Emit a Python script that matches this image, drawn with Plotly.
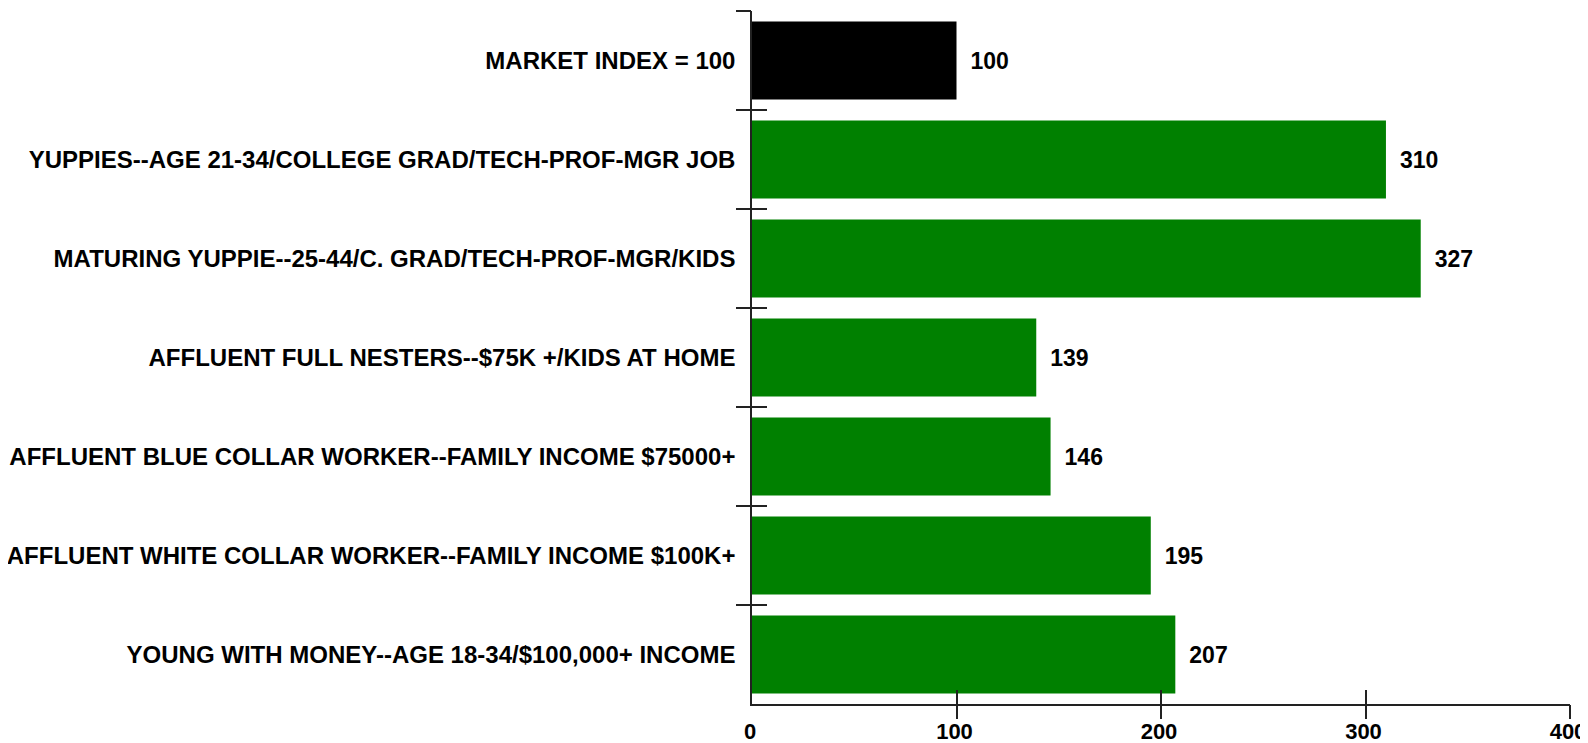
import plotly.graph_objects as go

categories = [
    "MARKET INDEX = 100",
    "YUPPIES--AGE 21-34/COLLEGE GRAD/TECH-PROF-MGR JOB",
    "MATURING YUPPIE--25-44/C. GRAD/TECH-PROF-MGR/KIDS",
    "AFFLUENT FULL NESTERS--$75K +/KIDS AT HOME",
    "AFFLUENT BLUE COLLAR WORKER--FAMILY INCOME $75000+",
    "AFFLUENT WHITE COLLAR WORKER--FAMILY INCOME $100K+",
    "YOUNG WITH MONEY--AGE 18-34/$100,000+ INCOME",
]
values = [100, 310, 327, 139, 146, 195, 207]
bar_colors = ["#000000", "#008000", "#008000", "#008000", "#008000", "#008000", "#008000"]
x_ticks = [0, 100, 200, 300, 400]

FONT = "Arial, Liberation Sans, sans-serif"
n = len(categories)
boundaries = [i - 0.5 for i in range(n)]  # top edge + interior boundaries

fig = go.Figure()
fig.add_trace(go.Bar(
    y=categories, x=values, orientation="h",
    marker=dict(color=bar_colors, line=dict(width=0)),
    texttemplate=" \u2009%{x}", textposition="outside",
    textfont=dict(family=FONT, size=23, color="black", weight="bold"),
    constraintext="none", cliponaxis=False, showlegend=False,
))
# dummy traces to host the overlay axes that draw crossing tick marks
for xa, ya in (("x2", "y2"), ("x3", "y3")):
    fig.add_trace(go.Scatter(x=[None], y=[None], xaxis=xa, yaxis=ya,
                             mode="markers", showlegend=False, hoverinfo="skip"))

xr = [x_ticks[0], x_ticks[-1]]
yr = [n - 0.5, -0.5]
line_col = "#222222"

# page body has an 8px margin, so the figure is sized to fit the 1588x743 window
fig.update_layout(
    width=1580, height=735,
    margin=dict(l=744, r=18, t=3, b=39, autoexpand=False),
    paper_bgcolor="white", plot_bgcolor="white",
    bargap=0.21,
    xaxis=dict(range=xr, tickvals=x_ticks, ticks="", showgrid=False, zeroline=False,
               showline=True, linecolor=line_col, linewidth=1.5, automargin=False,
               ticklabeloverflow="allow", ticklabelshift=-2,
               tickfont=dict(family=FONT, size=22, color="black", weight="bold"),
               ticklabelstandoff=7),
    yaxis=dict(range=yr, type="category", ticks="", showgrid=False, zeroline=False,
               showline=True, linecolor=line_col, linewidth=1.5, automargin=False,
               tickfont=dict(family=FONT, size=24, color="black", weight="bold"),
               ticklabelstandoff=10),
    xaxis2=dict(overlaying="x", anchor="y", range=xr, tickvals=x_ticks[1:],
                ticks="outside", ticklen=14, tickwidth=1.5, tickcolor=line_col,
                showticklabels=False, showgrid=False, zeroline=False, showline=False,
                automargin=False),
    xaxis3=dict(overlaying="x", anchor="y", range=xr, tickvals=x_ticks[1:],
                ticks="inside", ticklen=14, tickwidth=1.5, tickcolor=line_col,
                showticklabels=False, showgrid=False, zeroline=False, showline=False,
                automargin=False),
    yaxis2=dict(overlaying="y", anchor="x", range=yr, tickvals=boundaries,
                ticks="outside", ticklen=15, tickwidth=1.5, tickcolor=line_col,
                showticklabels=False, showgrid=False, zeroline=False, showline=False,
                automargin=False),
    yaxis3=dict(overlaying="y", anchor="x", range=yr, tickvals=boundaries,
                ticks="inside", ticklen=15, tickwidth=1.5, tickcolor=line_col,
                showticklabels=False, showgrid=False, zeroline=False, showline=False,
                automargin=False),
)

fig.write_html("out.html")
